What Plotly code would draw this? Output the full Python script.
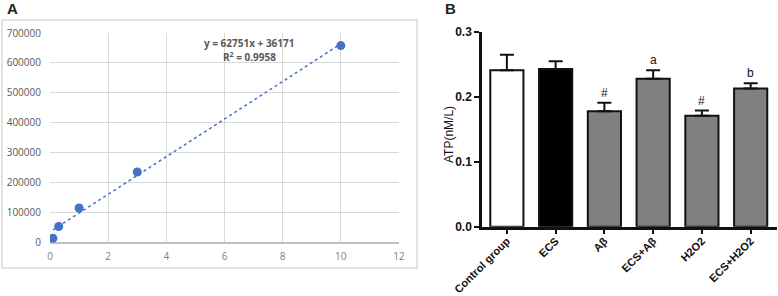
import plotly.graph_objects as go
import numpy as np

# Panel A: standard curve data
conc = [0.1, 0.3, 1, 3, 10]
signal = [15000, 54000, 116000, 236000, 658000]
slope = 62751
intercept = 36171
eq_text = "<b>y = 62751x + 36171</b>"
r2_text = "<b>R<sup>2</sup> = 0.9958</b>"
xticks_a = [0, 2, 4, 6, 8, 10, 12]
yticks_a = [0, 100000, 200000, 300000, 400000, 500000, 600000, 700000]

# Panel B: ATP bars
groups = ["Control group", "ECS", "Aβ", "ECS+Aβ", "H2O2", "ECS+H2O2"]
atp = [0.241, 0.243, 0.178, 0.228, 0.171, 0.213]
err = [0.024, 0.012, 0.013, 0.013, 0.008, 0.008]
bar_colors = ["white", "black", "#808080", "#808080", "#808080", "#808080"]
sig_labels = ["", "", "#", "a", "#", "b"]
yticks_b = [0.0, 0.1, 0.2, 0.3]

W, H = 778, 296
def px(x):
    return x / W
def py(y):
    return (H - y) / H

fig = go.Figure()

# trendline
xl = np.array([conc[0], conc[-1]])
fig.add_trace(go.Scatter(x=xl, y=slope * xl + intercept, mode="lines",
                         line=dict(color="#4472C4", width=1.5, dash="dot"),
                         xaxis="x", yaxis="y", showlegend=False, hoverinfo="skip"))
fig.add_trace(go.Scatter(x=conc, y=signal, mode="markers",
                         marker=dict(color="#4472C4", size=9),
                         xaxis="x", yaxis="y", showlegend=False))

# bars
fig.add_trace(go.Bar(x=list(range(len(groups))), y=atp,
                     marker=dict(color=bar_colors, line=dict(color="#111111", width=2)),
                     width=0.68,
                     error_y=dict(type="data", array=err, arrayminus=[0]*len(err),
                                  symmetric=False, color="#111111", thickness=2, width=7),
                     xaxis="x2", yaxis="y2", showlegend=False))

fig.update_layout(
    width=W, height=H,
    margin=dict(l=0, r=0, t=0, b=0, autoexpand=False),
    paper_bgcolor="white", plot_bgcolor="white",
    font=dict(family="Liberation Sans, Arial, sans-serif"),
    xaxis=dict(domain=[px(50), px(399)], range=[0, 12], tickvals=xticks_a,
               showgrid=True, gridcolor="#d9d9d9", gridwidth=1,
               zeroline=False, showline=False, ticks="", automargin=False,
               ticklabelstandoff=6,
               tickfont=dict(size=10, color="#7f7f7f", family="Open Sans, sans-serif"),
               anchor="y"),
    yaxis=dict(domain=[py(242.7), py(33)], range=[0, 700000], tickvals=yticks_a,
               ticktext=[str(v) for v in yticks_a],
               showgrid=True, gridcolor="#d9d9d9", gridwidth=1,
               zeroline=True, zerolinecolor="#bfbfbf", zerolinewidth=1.5,
               showline=False, ticks="", ticklabelstandoff=8, automargin=False,
               tickfont=dict(size=10, color="#595959", family="Open Sans, sans-serif"),
               anchor="x"),
    xaxis2=dict(domain=[px(482), px(777)], range=[-0.51, 5.54],
                tickvals=list(range(len(groups))), ticktext=[f"<b>{g}</b>" for g in groups],
                tickangle=-45, ticks="outside", ticklen=5, tickwidth=2, tickcolor="#111111",
                showline=True, linecolor="#111111", linewidth=2.5,
                showgrid=False, zeroline=False, automargin=False,
                ticklabelstandoff=-4,
                tickfont=dict(size=11, color="#111111"),
                anchor="y2"),
    yaxis2=dict(domain=[py(226.7), py(32)], range=[0, 0.3], tickvals=yticks_b,
                ticktext=[f"<b>{v:.1f}</b>" for v in yticks_b],
                ticks="outside", ticklen=5, tickwidth=2, tickcolor="#111111",
                showline=True, linecolor="#111111", linewidth=2.5,
                showgrid=False, zeroline=False, automargin=False,
                tickfont=dict(size=12, color="#111111"),
                anchor="x2"),
)

# y-axis title for panel B
fig.add_annotation(x=px(449), y=py(135), xref="paper", yref="paper", text="ATP(nM/L)",
                   xanchor="center", yanchor="middle",
                   textangle=-90, showarrow=False, font=dict(size=12, color="#111111"))

# panel A border
fig.add_shape(type="rect", xref="paper", yref="paper",
              x0=px(2), x1=px(417), y0=py(268), y1=py(20),
              line=dict(color="#d9d9d9", width=1.5), fillcolor="rgba(0,0,0,0)", layer="below")

# equation annotations
fig.add_annotation(x=px(249), y=py(43), xref="paper", yref="paper", text=eq_text,
                   xanchor="center", yanchor="middle", showarrow=False,
                   font=dict(size=10, color="#595959", family="Open Sans, sans-serif"))
fig.add_annotation(x=px(249), y=py(57), xref="paper", yref="paper", text=r2_text,
                   xanchor="center", yanchor="middle", showarrow=False,
                   font=dict(size=10, color="#595959", family="Open Sans, sans-serif"))

# panel labels
fig.add_annotation(x=px(12), y=py(9), xref="paper", yref="paper", text="<b>A</b>",
                   xanchor="center", yanchor="middle",
                   showarrow=False, font=dict(size=15, color="#222222"))
fig.add_annotation(x=px(450), y=py(9), xref="paper", yref="paper", text="<b>B</b>",
                   xanchor="center", yanchor="middle",
                   showarrow=False, font=dict(size=15, color="#222222"))

# significance labels
for i, s in enumerate(sig_labels):
    if s:
        fig.add_annotation(x=i, y=atp[i] + err[i], xref="x2", yref="y2", text=s,
                           showarrow=False, yanchor="bottom", yshift=1,
                           font=dict(size=12, color="#111111"))

fig.write_html("out.html", config={"displayModeBar": False},
               post_script="document.body.style.margin='0';document.body.style.overflow='hidden';")
